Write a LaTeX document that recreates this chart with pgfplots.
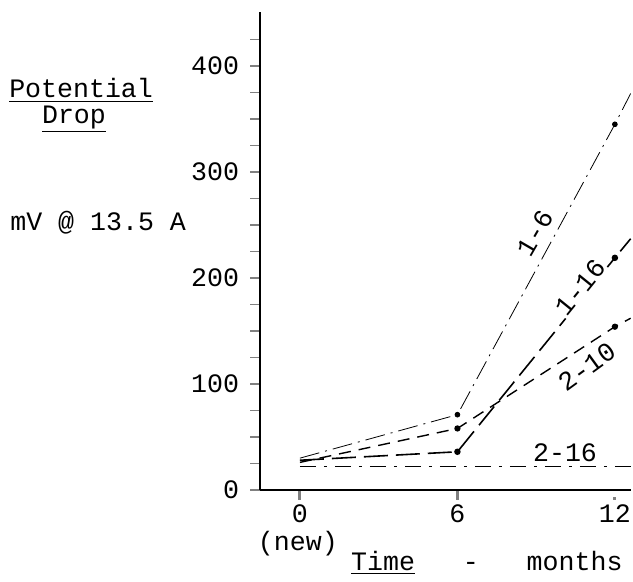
\documentclass[border=0pt]{standalone}
\usepackage{pgfplots}
\pgfplotsset{compat=1.18}
\usepackage{fontspec}
\setmainfont{Liberation Mono}
\begin{document}
\begin{tikzpicture}
\begin{axis}[
    scale only axis, width=185.3pt, height=239pt,
    xmin=-1.52, xmax=12.6, ymin=0, ymax=451,
    axis lines*=left, axis line style={line width=1pt},
    clip=false,
    font=\fontsize{13.3}{15}\selectfont,
    /pgf/number format/assume math mode=true,
    xtick={0,6,12}, ytick={0,100,200,300,400},
    minor ytick={25,50,...,425},
    tick align=outside,
    ytick style={line width=0.8pt},
    major tick length=5pt, minor tick length=5pt,
    xtick style={line width=1.5pt, shorten >=3.3pt},
    yticklabel style={xshift=-2pt},
    xticklabel style={yshift=-1pt, inner sep=1pt},
]
\addplot[black, line width=0.4pt, dash pattern=on 10pt off 3pt on 1pt off 3pt,
    mark=*, mark size=1.2pt, mark indices={2,3}, mark options={solid}]
    coordinates {(0,30) (6,71) (12,345) (12.6,374)};
\addplot[black, line width=0.8pt, dash pattern=on 12pt off 4pt,
    mark=*, mark size=1.2pt, mark indices={2,3}, mark options={solid}]
    coordinates {(0,28) (6,36) (12,219) (12.6,237)};
\addplot[black, line width=0.7pt, dash pattern=on 6pt off 4pt,
    mark=*, mark size=1.2pt, mark indices={2,3}, mark options={solid}]
    coordinates {(0,26) (6,58) (12,154) (12.6,162)};
\addplot[black, line width=0.6pt, dash pattern=on 8pt off 4pt on 1.5pt off 4pt]
    coordinates {(0,22) (6,22) (12,22) (12.6,22)};

\node[fill=white, inner sep=0.5pt] at (axis cs:8.95,242) [rotate=60] {1-6};
\node[fill=white, inner sep=0.5pt] at (axis cs:10.67,191) [rotate=51] {1-16};
\node[fill=white, inner sep=0.5pt] at (axis cs:10.93,116) [rotate=36] {2-10};
\node at (axis cs:10.1,35) {2-16};

\node at (axis cs:-8.34,377) {\underline{Potential}};
\node at (axis cs:-8.61,350) {\underline{Drop}};
\node[anchor=west, inner sep=0pt] at (axis cs:-11.05,252) {mV @ 13.5 A};
\node[inner sep=0pt] at (axis cs:-0.08,-51) {(new)};
\node[inner sep=0pt] at (axis cs:7.12,-69) {\underline{Time}~~~-~~~months};

\path (axis cs:-11.43,-86.8) rectangle (axis cs:12.69,462.3);
\end{axis}
\end{tikzpicture}
\end{document}
